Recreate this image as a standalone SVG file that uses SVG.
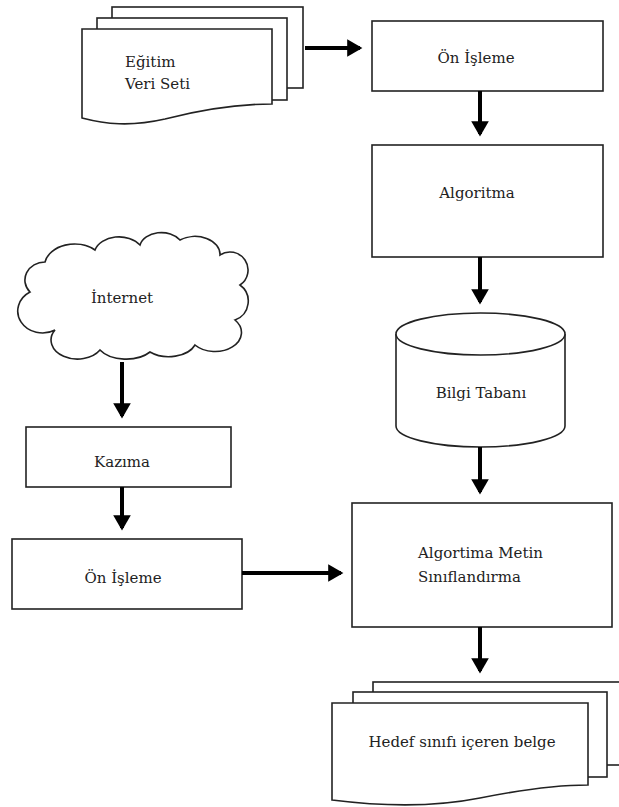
<svg xmlns="http://www.w3.org/2000/svg" width="619" height="807" viewBox="0 0 619 807">
<defs>
<style>
.s{fill:#fff;stroke:#222;stroke-width:1.6}
.t{font-family:"DejaVu Serif","Liberation Serif",serif;font-size:15px;fill:#222}
.m{text-anchor:middle}
.c{stroke:#000;stroke-width:4;fill:none}
</style>
<marker id="ah" markerWidth="4" markerHeight="4.4" refX="3.2" refY="2.2" orient="auto" markerUnits="strokeWidth" overflow="visible">
<path d="M0,0 L3.8,2.2 L0,4.4 Z" fill="#000"/>
</marker>
</defs>
<rect width="619" height="807" fill="#fff"/>
<g id="egitim">
<rect class="s" x="112" y="7" width="191" height="81"/>
<rect class="s" x="97" y="18" width="190" height="82"/>
<path class="s" d="M82 29 H272 V104 C240 104 200 110 165 119 C130 127 105 124 82 118 Z"/>
<text class="t" x="125" y="67">Eğitim</text>
<text class="t" x="125" y="89">Veri Seti</text>
</g>
<g id="onisleme1">
<rect class="s" x="372" y="21" width="231" height="70"/>
<text class="t m" x="476" y="63">Ön İşleme</text>
</g>
<g id="algoritma">
<rect class="s" x="372" y="145" width="231" height="112"/>
<text class="t m" x="477" y="198">Algoritma</text>
</g>
<g id="bilgi">
<path class="s" d="M396 334 V426 A84.5 21 0 0 0 565 426 V334"/>
<ellipse class="s" cx="480.5" cy="334" rx="84.5" ry="21"/>
<text class="t m" x="481" y="398">Bilgi Tabanı</text>
</g>
<g id="internet">
<path class="s" d="M30 292 A20 18 0 0 1 45 262 A30 22 0 0 1 95 250 A25 18 0 0 1 140 245 A22 16 0 0 1 180 240 A25 18 0 0 1 220 255 A18 18 0 0 1 240 285 A20 20 0 0 1 235 320 A25 18 0 0 1 195 345 A28 18 0 0 1 150 352 A30 18 0 0 1 100 350 A25 18 0 0 1 55 330 A18 16 0 0 1 30 292 Z"/>
<text class="t m" x="122" y="303">İnternet</text>
</g>
<g id="kazima">
<rect class="s" x="26" y="427" width="205" height="60"/>
<text class="t m" x="122" y="467">Kazıma</text>
</g>
<g id="onisleme2">
<rect class="s" x="12" y="539" width="230" height="70"/>
<text class="t m" x="123" y="583">Ön İşleme</text>
</g>
<g id="siniflandirma">
<rect class="s" x="352" y="503" width="260" height="124"/>
<text class="t" x="418" y="558">Algortima Metin</text>
<text class="t" x="418" y="582">Sınıflandırma</text>
</g>
<g id="hedef">
<rect class="s" x="373" y="682" width="252" height="83"/>
<rect class="s" x="353" y="692" width="254" height="85"/>
<path class="s" d="M332 703 H588 V785 C555 785 520 790 480 798 C430 808 380 806 332 800 Z"/>
<text class="t m" x="462" y="747">Hedef sınıfı içeren belge</text>
</g>
<g id="connectors">
<line class="c" x1="305" y1="48" x2="360" y2="48" marker-end="url(#ah)"/>
<line class="c" x1="480" y1="91" x2="480" y2="134" marker-end="url(#ah)"/>
<line class="c" x1="480" y1="257" x2="480" y2="302" marker-end="url(#ah)"/>
<line class="c" x1="480" y1="447" x2="480" y2="492" marker-end="url(#ah)"/>
<line class="c" x1="480" y1="627" x2="480" y2="671" marker-end="url(#ah)"/>
<line class="c" x1="122" y1="362" x2="122" y2="416" marker-end="url(#ah)"/>
<line class="c" x1="122" y1="487" x2="122" y2="528" marker-end="url(#ah)"/>
<line class="c" x1="242" y1="573" x2="341" y2="573" marker-end="url(#ah)"/>
</g>
</svg>
